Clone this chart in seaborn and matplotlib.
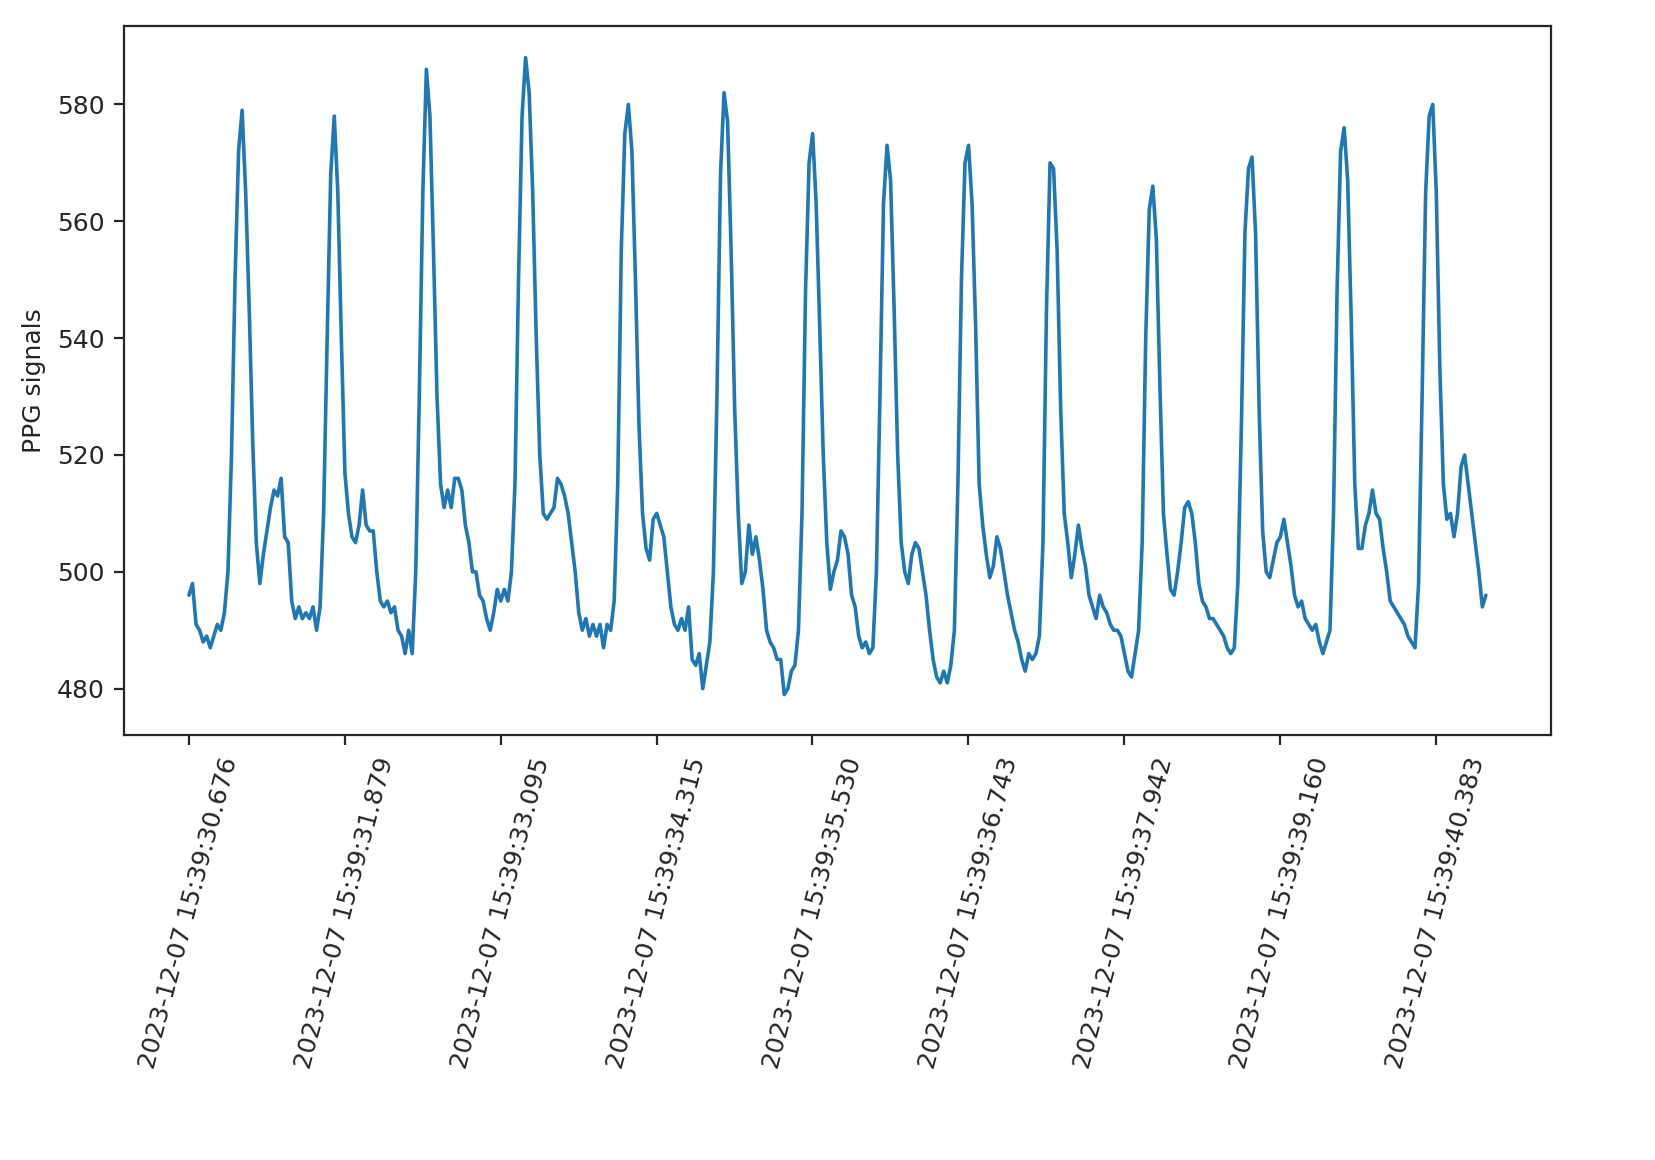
import numpy as np
import pandas as pd
import matplotlib
matplotlib.use("Agg")
import matplotlib.pyplot as plt
import seaborn as sns

# PPG samples, one per timestamp
ppg = [496,498,491,490,488,489,487,489,491,490,493,500,520,550,572,579,565,545,522,505,
       498,503,507,511,514,513,516,506,505,495,492,494,492,493,492,494,490,494,510,540,
       568,578,565,540,517,510,506,505,508,514,508,507,507,500,495,494,495,493,494,490,
       489,486,490,486,500,530,565,586,578,555,530,515,511,514,511,516,516,514,508,505,
       500,500,496,495,492,490,493,497,495,497,495,500,515,550,578,588,582,565,540,520,
       510,509,510,511,516,515,513,510,505,500,493,490,492,489,491,489,491,487,491,490,
       495,515,555,575,580,572,550,525,510,504,502,509,510,508,506,500,494,491,490,492,
       490,494,485,484,486,480,484,488,500,530,568,582,577,555,528,510,498,500,508,503,
       506,502,497,490,488,487,485,485,479,480,483,484,490,510,548,570,575,563,542,520,
       505,497,500,502,507,506,503,496,494,489,487,488,486,487,500,530,563,573,567,545,
       520,505,500,498,503,505,504,500,496,490,485,482,481,483,481,484,490,515,550,570,
       573,563,542,515,508,503,499,501,506,504,500,496,493,490,488,485,483,486,485,486,
       489,505,545,570,569,555,528,510,505,499,503,508,504,501,496,494,492,496,494,493,
       491,490,490,489,486,483,482,486,490,505,540,562,566,557,532,510,503,497,496,500,
       505,511,512,510,505,498,495,494,492,492,491,490,489,487,486,487,498,525,558,569,
       571,558,528,507,500,499,502,505,506,509,505,501,496,494,495,492,491,490,491,488,
       486,488,490,510,548,572,576,567,543,515,504,504,508,510,514,510,509,504,500,495,
       494,493,492,491,489,488,487,498,530,565,578,580,565,535,515,509,510,506,510,518,
       520,515,510,505,500,494,496]

tick_labels = ["2023-12-07 15:39:30.676", "2023-12-07 15:39:31.879", "2023-12-07 15:39:33.095",
               "2023-12-07 15:39:34.315", "2023-12-07 15:39:35.530", "2023-12-07 15:39:36.743",
               "2023-12-07 15:39:37.942", "2023-12-07 15:39:39.160", "2023-12-07 15:39:40.383"]

df = pd.DataFrame({"idx": np.arange(len(ppg)), "ppg": ppg})
step = (len(ppg) - 1) / 8.32

sns.set_style("ticks")
fig = plt.figure(figsize=(8.275, 5.8), dpi=200)
ax = fig.add_axes([0.075, 0.366, 0.862, 0.612])
sns.lineplot(data=df, x="idx", y="ppg", ax=ax, color="#1f77b4", linewidth=1.3)
ax.set_xticks([i * step for i in range(len(tick_labels))])
ax.set_xticklabels(tick_labels, rotation=75, fontsize=9)
ax.tick_params(axis="y", labelsize=9)
ax.set_xlabel("")
ax.set_ylabel("PPG signals", fontsize=9)
ax.set_yticks([480, 500, 520, 540, 560, 580])
ax.set_ylim(472, 593.5)
fig.savefig("out.png", dpi=200)
